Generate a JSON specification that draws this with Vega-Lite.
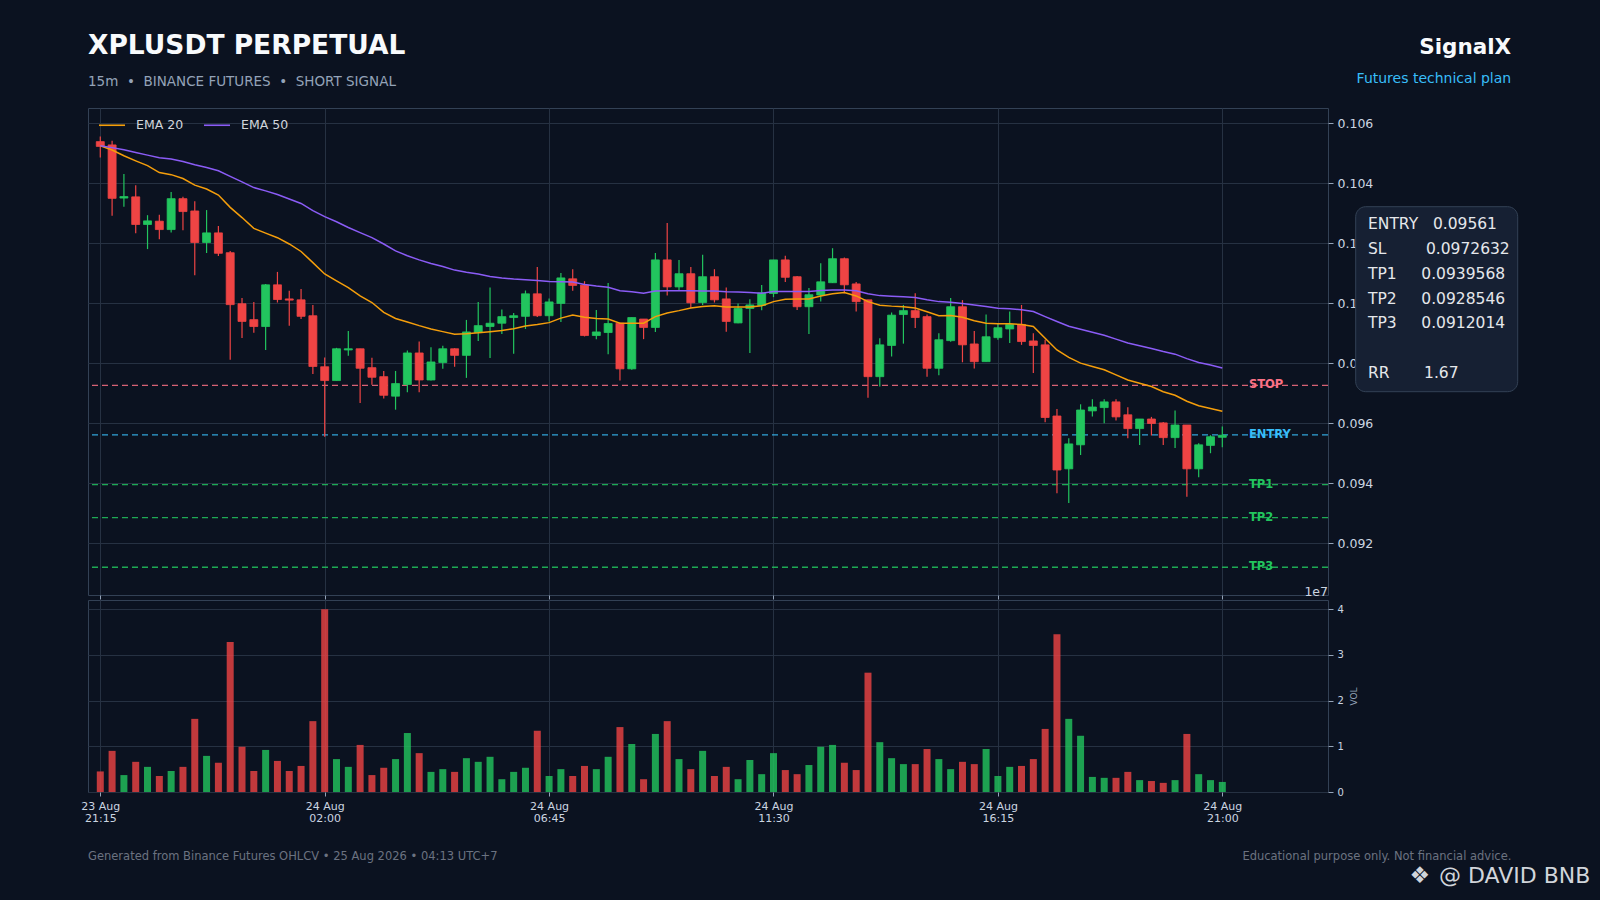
{
  "$schema": "https://vega.github.io/schema/vega-lite/v6.json",
  "description": "XPLUSDT perpetual 15m candles with EMA 20/50, trade levels and volume",
  "autosize": {"type": "none"},
  "padding": {"left": 88, "top": 108, "right": 1512, "bottom": 792},
  "background": "#0b1220",
  "bounds": "flush",
  "spacing": 5,
  "config": {
    "font": "DejaVu Sans",
    "view": {"fill": "#111827", "stroke": "#334155", "strokeWidth": 1},
    "axis": {
      "labelFont": "DejaVu Sans",
      "titleFont": "DejaVu Sans",
      "gridColor": "#263142",
      "gridWidth": 1,
      "domain": false,
      "tickColor": "#94a3b8",
      "labelColor": "#cbd5e1"
    }
  },
  "datasets": {
    "candles": [
      {"t":"2026-08-23T21:15:00Z","open":0.10538,"high":0.10555,"low":0.10485,"close":0.10522,"volume":0.45,"ema20":0.10524,"ema50":0.10524},
      {"t":"2026-08-23T21:30:00Z","open":0.10527,"high":0.10541,"low":0.10291,"close":0.10349,"volume":0.90,"ema20":0.10510,"ema50":0.10518},
      {"t":"2026-08-23T21:45:00Z","open":0.10350,"high":0.10430,"low":0.10321,"close":0.10355,"volume":0.37,"ema20":0.10491,"ema50":0.10511},
      {"t":"2026-08-23T22:00:00Z","open":0.10354,"high":0.10393,"low":0.10233,"close":0.10262,"volume":0.66,"ema20":0.10474,"ema50":0.10502},
      {"t":"2026-08-23T22:15:00Z","open":0.10262,"high":0.10293,"low":0.10180,"close":0.10274,"volume":0.55,"ema20":0.10458,"ema50":0.10493},
      {"t":"2026-08-23T22:30:00Z","open":0.10273,"high":0.10294,"low":0.10213,"close":0.10245,"volume":0.35,"ema20":0.10435,"ema50":0.10484},
      {"t":"2026-08-23T22:45:00Z","open":0.10245,"high":0.10370,"low":0.10235,"close":0.10348,"volume":0.46,"ema20":0.10428,"ema50":0.10480},
      {"t":"2026-08-23T23:00:00Z","open":0.10348,"high":0.10354,"low":0.10243,"close":0.10305,"volume":0.55,"ema20":0.10415,"ema50":0.10472},
      {"t":"2026-08-23T23:15:00Z","open":0.10307,"high":0.10339,"low":0.10093,"close":0.10202,"volume":1.60,"ema20":0.10393,"ema50":0.10461},
      {"t":"2026-08-23T23:30:00Z","open":0.10202,"high":0.10310,"low":0.10167,"close":0.10234,"volume":0.79,"ema20":0.10380,"ema50":0.10452},
      {"t":"2026-08-23T23:45:00Z","open":0.10234,"high":0.10257,"low":0.10157,"close":0.10166,"volume":0.64,"ema20":0.10360,"ema50":0.10441},
      {"t":"2026-08-24T00:00:00Z","open":0.10168,"high":0.10174,"low":0.09811,"close":0.09995,"volume":3.28,"ema20":0.10319,"ema50":0.10422},
      {"t":"2026-08-24T00:15:00Z","open":0.09998,"high":0.10017,"low":0.09884,"close":0.09939,"volume":0.99,"ema20":0.10285,"ema50":0.10404},
      {"t":"2026-08-24T00:30:00Z","open":0.09945,"high":0.10004,"low":0.09901,"close":0.09922,"volume":0.46,"ema20":0.10249,"ema50":0.10385},
      {"t":"2026-08-24T00:45:00Z","open":0.09922,"high":0.10064,"low":0.09844,"close":0.10061,"volume":0.92,"ema20":0.10233,"ema50":0.10374},
      {"t":"2026-08-24T01:00:00Z","open":0.10061,"high":0.10104,"low":0.10002,"close":0.10012,"volume":0.68,"ema20":0.10218,"ema50":0.10362},
      {"t":"2026-08-24T01:15:00Z","open":0.10014,"high":0.10041,"low":0.09925,"close":0.10010,"volume":0.46,"ema20":0.10197,"ema50":0.10347},
      {"t":"2026-08-24T01:30:00Z","open":0.10011,"high":0.10047,"low":0.09947,"close":0.09956,"volume":0.57,"ema20":0.10172,"ema50":0.10332},
      {"t":"2026-08-24T01:45:00Z","open":0.09958,"high":0.09994,"low":0.09764,"close":0.09789,"volume":1.55,"ema20":0.10135,"ema50":0.10308},
      {"t":"2026-08-24T02:00:00Z","open":0.09788,"high":0.09819,"low":0.09555,"close":0.09742,"volume":4.00,"ema20":0.10097,"ema50":0.10288},
      {"t":"2026-08-24T02:15:00Z","open":0.09742,"high":0.09851,"low":0.09742,"close":0.09848,"volume":0.72,"ema20":0.10074,"ema50":0.10271},
      {"t":"2026-08-24T02:30:00Z","open":0.09844,"high":0.09907,"low":0.09825,"close":0.09848,"volume":0.55,"ema20":0.10052,"ema50":0.10252},
      {"t":"2026-08-24T02:45:00Z","open":0.09848,"high":0.09848,"low":0.09667,"close":0.09783,"volume":1.03,"ema20":0.10024,"ema50":0.10235},
      {"t":"2026-08-24T03:00:00Z","open":0.09785,"high":0.09818,"low":0.09728,"close":0.09753,"volume":0.37,"ema20":0.10002,"ema50":0.10218},
      {"t":"2026-08-24T03:15:00Z","open":0.09755,"high":0.09774,"low":0.09682,"close":0.09693,"volume":0.53,"ema20":0.09969,"ema50":0.10197},
      {"t":"2026-08-24T03:30:00Z","open":0.09690,"high":0.09774,"low":0.09645,"close":0.09732,"volume":0.72,"ema20":0.09949,"ema50":0.10174},
      {"t":"2026-08-24T03:45:00Z","open":0.09729,"high":0.09842,"low":0.09703,"close":0.09834,"volume":1.29,"ema20":0.09937,"ema50":0.10158},
      {"t":"2026-08-24T04:00:00Z","open":0.09834,"high":0.09872,"low":0.09703,"close":0.09744,"volume":0.85,"ema20":0.09925,"ema50":0.10144},
      {"t":"2026-08-24T04:15:00Z","open":0.09744,"high":0.09853,"low":0.09742,"close":0.09804,"volume":0.44,"ema20":0.09914,"ema50":0.10132},
      {"t":"2026-08-24T04:30:00Z","open":0.09802,"high":0.09858,"low":0.09781,"close":0.09848,"volume":0.50,"ema20":0.09905,"ema50":0.10122},
      {"t":"2026-08-24T04:45:00Z","open":0.09848,"high":0.09850,"low":0.09788,"close":0.09826,"volume":0.44,"ema20":0.09896,"ema50":0.10110},
      {"t":"2026-08-24T05:00:00Z","open":0.09826,"high":0.09944,"low":0.09751,"close":0.09904,"volume":0.74,"ema20":0.09898,"ema50":0.10103},
      {"t":"2026-08-24T05:15:00Z","open":0.09902,"high":0.10004,"low":0.09874,"close":0.09925,"volume":0.66,"ema20":0.09901,"ema50":0.10097},
      {"t":"2026-08-24T05:30:00Z","open":0.09922,"high":0.10052,"low":0.09817,"close":0.09933,"volume":0.77,"ema20":0.09905,"ema50":0.10089},
      {"t":"2026-08-24T05:45:00Z","open":0.09933,"high":0.09979,"low":0.09897,"close":0.09955,"volume":0.28,"ema20":0.09909,"ema50":0.10084},
      {"t":"2026-08-24T06:00:00Z","open":0.09952,"high":0.09967,"low":0.09831,"close":0.09958,"volume":0.44,"ema20":0.09915,"ema50":0.10080},
      {"t":"2026-08-24T06:15:00Z","open":0.09956,"high":0.10042,"low":0.09914,"close":0.10031,"volume":0.53,"ema20":0.09924,"ema50":0.10078},
      {"t":"2026-08-24T06:30:00Z","open":0.10031,"high":0.10120,"low":0.09954,"close":0.09958,"volume":1.34,"ema20":0.09929,"ema50":0.10075},
      {"t":"2026-08-24T06:45:00Z","open":0.09958,"high":0.10015,"low":0.09939,"close":0.10004,"volume":0.35,"ema20":0.09935,"ema50":0.10072},
      {"t":"2026-08-24T07:00:00Z","open":0.09999,"high":0.10100,"low":0.09937,"close":0.10084,"volume":0.50,"ema20":0.09950,"ema50":0.10071},
      {"t":"2026-08-24T07:15:00Z","open":0.10081,"high":0.10113,"low":0.10041,"close":0.10059,"volume":0.35,"ema20":0.09960,"ema50":0.10070},
      {"t":"2026-08-24T07:30:00Z","open":0.10060,"high":0.10073,"low":0.09889,"close":0.09892,"volume":0.57,"ema20":0.09953,"ema50":0.10062},
      {"t":"2026-08-24T07:45:00Z","open":0.09892,"high":0.09977,"low":0.09880,"close":0.09904,"volume":0.50,"ema20":0.09949,"ema50":0.10057},
      {"t":"2026-08-24T08:00:00Z","open":0.09902,"high":0.10067,"low":0.09830,"close":0.09932,"volume":0.77,"ema20":0.09947,"ema50":0.10053},
      {"t":"2026-08-24T08:15:00Z","open":0.09933,"high":0.09935,"low":0.09742,"close":0.09781,"volume":1.42,"ema20":0.09933,"ema50":0.10041},
      {"t":"2026-08-24T08:30:00Z","open":0.09781,"high":0.09952,"low":0.09778,"close":0.09952,"volume":1.05,"ema20":0.09933,"ema50":0.10038},
      {"t":"2026-08-24T08:45:00Z","open":0.09947,"high":0.09947,"low":0.09880,"close":0.09919,"volume":0.28,"ema20":0.09933,"ema50":0.10033},
      {"t":"2026-08-24T09:00:00Z","open":0.09919,"high":0.10167,"low":0.09904,"close":0.10144,"volume":1.27,"ema20":0.09955,"ema50":0.10040},
      {"t":"2026-08-24T09:15:00Z","open":0.10144,"high":0.10267,"low":0.10025,"close":0.10054,"volume":1.55,"ema20":0.09967,"ema50":0.10041},
      {"t":"2026-08-24T09:30:00Z","open":0.10054,"high":0.10144,"low":0.10041,"close":0.10098,"volume":0.72,"ema20":0.09975,"ema50":0.10041},
      {"t":"2026-08-24T09:45:00Z","open":0.10098,"high":0.10120,"low":0.09984,"close":0.10001,"volume":0.50,"ema20":0.09984,"ema50":0.10041},
      {"t":"2026-08-24T10:00:00Z","open":0.10002,"high":0.10161,"low":0.09994,"close":0.10088,"volume":0.90,"ema20":0.09989,"ema50":0.10040},
      {"t":"2026-08-24T10:15:00Z","open":0.10088,"high":0.10113,"low":0.10002,"close":0.10011,"volume":0.35,"ema20":0.09991,"ema50":0.10040},
      {"t":"2026-08-24T10:30:00Z","open":0.10014,"high":0.10052,"low":0.09905,"close":0.09939,"volume":0.55,"ema20":0.09987,"ema50":0.10038},
      {"t":"2026-08-24T10:45:00Z","open":0.09934,"high":0.09999,"low":0.09933,"close":0.09982,"volume":0.28,"ema20":0.09987,"ema50":0.10037},
      {"t":"2026-08-24T11:00:00Z","open":0.09982,"high":0.10013,"low":0.09834,"close":0.09994,"volume":0.70,"ema20":0.09987,"ema50":0.10035},
      {"t":"2026-08-24T11:15:00Z","open":0.09992,"high":0.10060,"low":0.09976,"close":0.10034,"volume":0.39,"ema20":0.09991,"ema50":0.10033},
      {"t":"2026-08-24T11:30:00Z","open":0.10032,"high":0.10144,"low":0.10020,"close":0.10144,"volume":0.85,"ema20":0.10005,"ema50":0.10039},
      {"t":"2026-08-24T11:45:00Z","open":0.10144,"high":0.10158,"low":0.10070,"close":0.10086,"volume":0.48,"ema20":0.10013,"ema50":0.10039},
      {"t":"2026-08-24T12:00:00Z","open":0.10088,"high":0.10090,"low":0.09977,"close":0.09988,"volume":0.39,"ema20":0.10014,"ema50":0.10039},
      {"t":"2026-08-24T12:15:00Z","open":0.09988,"high":0.10050,"low":0.09897,"close":0.10028,"volume":0.59,"ema20":0.10014,"ema50":0.10039},
      {"t":"2026-08-24T12:30:00Z","open":0.10027,"high":0.10133,"low":0.10005,"close":0.10071,"volume":0.99,"ema20":0.10024,"ema50":0.10042},
      {"t":"2026-08-24T12:45:00Z","open":0.10068,"high":0.10183,"low":0.10067,"close":0.10148,"volume":1.03,"ema20":0.10031,"ema50":0.10044},
      {"t":"2026-08-24T13:00:00Z","open":0.10148,"high":0.10152,"low":0.10033,"close":0.10061,"volume":0.64,"ema20":0.10035,"ema50":0.10044},
      {"t":"2026-08-24T13:15:00Z","open":0.10064,"high":0.10070,"low":0.09972,"close":0.10005,"volume":0.48,"ema20":0.10024,"ema50":0.10041},
      {"t":"2026-08-24T13:30:00Z","open":0.10011,"high":0.10011,"low":0.09685,"close":0.09755,"volume":2.61,"ema20":0.10005,"ema50":0.10031},
      {"t":"2026-08-24T13:45:00Z","open":0.09755,"high":0.09883,"low":0.09722,"close":0.09861,"volume":1.09,"ema20":0.09993,"ema50":0.10025},
      {"t":"2026-08-24T14:00:00Z","open":0.09859,"high":0.09969,"low":0.09822,"close":0.09960,"volume":0.74,"ema20":0.09990,"ema50":0.10023},
      {"t":"2026-08-24T14:15:00Z","open":0.09962,"high":0.09994,"low":0.09865,"close":0.09975,"volume":0.61,"ema20":0.09988,"ema50":0.10021},
      {"t":"2026-08-24T14:30:00Z","open":0.09975,"high":0.10033,"low":0.09917,"close":0.09952,"volume":0.61,"ema20":0.09984,"ema50":0.10019},
      {"t":"2026-08-24T14:45:00Z","open":0.09955,"high":0.09962,"low":0.09755,"close":0.09783,"volume":0.94,"ema20":0.09971,"ema50":0.10011},
      {"t":"2026-08-24T15:00:00Z","open":0.09783,"high":0.09900,"low":0.09760,"close":0.09878,"volume":0.72,"ema20":0.09958,"ema50":0.10005},
      {"t":"2026-08-24T15:15:00Z","open":0.09875,"high":0.10017,"low":0.09871,"close":0.09988,"volume":0.50,"ema20":0.09959,"ema50":0.10003},
      {"t":"2026-08-24T15:30:00Z","open":0.09988,"high":0.10010,"low":0.09803,"close":0.09861,"volume":0.66,"ema20":0.09953,"ema50":0.09999},
      {"t":"2026-08-24T15:45:00Z","open":0.09864,"high":0.09907,"low":0.09782,"close":0.09805,"volume":0.61,"ema20":0.09941,"ema50":0.09994},
      {"t":"2026-08-24T16:00:00Z","open":0.09805,"high":0.09962,"low":0.09805,"close":0.09888,"volume":0.94,"ema20":0.09933,"ema50":0.09989},
      {"t":"2026-08-24T16:15:00Z","open":0.09885,"high":0.09933,"low":0.09878,"close":0.09918,"volume":0.35,"ema20":0.09931,"ema50":0.09983},
      {"t":"2026-08-24T16:30:00Z","open":0.09914,"high":0.09972,"low":0.09867,"close":0.09929,"volume":0.55,"ema20":0.09931,"ema50":0.09981},
      {"t":"2026-08-24T16:45:00Z","open":0.09929,"high":0.09994,"low":0.09861,"close":0.09872,"volume":0.57,"ema20":0.09929,"ema50":0.09978},
      {"t":"2026-08-24T17:00:00Z","open":0.09874,"high":0.09900,"low":0.09767,"close":0.09859,"volume":0.72,"ema20":0.09922,"ema50":0.09972},
      {"t":"2026-08-24T17:15:00Z","open":0.09861,"high":0.09878,"low":0.09603,"close":0.09619,"volume":1.38,"ema20":0.09883,"ema50":0.09955},
      {"t":"2026-08-24T17:30:00Z","open":0.09624,"high":0.09647,"low":0.09367,"close":0.09444,"volume":3.45,"ema20":0.09844,"ema50":0.09939},
      {"t":"2026-08-24T17:45:00Z","open":0.09448,"high":0.09550,"low":0.09334,"close":0.09531,"volume":1.60,"ema20":0.09819,"ema50":0.09923},
      {"t":"2026-08-24T18:00:00Z","open":0.09528,"high":0.09663,"low":0.09494,"close":0.09644,"volume":1.23,"ema20":0.09800,"ema50":0.09913},
      {"t":"2026-08-24T18:15:00Z","open":0.09641,"high":0.09680,"low":0.09622,"close":0.09654,"volume":0.33,"ema20":0.09789,"ema50":0.09903},
      {"t":"2026-08-24T18:30:00Z","open":0.09652,"high":0.09680,"low":0.09600,"close":0.09671,"volume":0.31,"ema20":0.09778,"ema50":0.09893},
      {"t":"2026-08-24T18:45:00Z","open":0.09671,"high":0.09680,"low":0.09609,"close":0.09621,"volume":0.31,"ema20":0.09761,"ema50":0.09880},
      {"t":"2026-08-24T19:00:00Z","open":0.09628,"high":0.09653,"low":0.09550,"close":0.09582,"volume":0.44,"ema20":0.09744,"ema50":0.09867},
      {"t":"2026-08-24T19:15:00Z","open":0.09582,"high":0.09614,"low":0.09527,"close":0.09614,"volume":0.26,"ema20":0.09733,"ema50":0.09858},
      {"t":"2026-08-24T19:30:00Z","open":0.09614,"high":0.09621,"low":0.09559,"close":0.09599,"volume":0.24,"ema20":0.09722,"ema50":0.09849},
      {"t":"2026-08-24T19:45:00Z","open":0.09601,"high":0.09604,"low":0.09527,"close":0.09552,"volume":0.20,"ema20":0.09705,"ema50":0.09839},
      {"t":"2026-08-24T20:00:00Z","open":0.09552,"high":0.09642,"low":0.09517,"close":0.09594,"volume":0.26,"ema20":0.09693,"ema50":0.09830},
      {"t":"2026-08-24T20:15:00Z","open":0.09594,"high":0.09594,"low":0.09355,"close":0.09448,"volume":1.27,"ema20":0.09673,"ema50":0.09815},
      {"t":"2026-08-24T20:30:00Z","open":0.09448,"high":0.09533,"low":0.09420,"close":0.09528,"volume":0.39,"ema20":0.09658,"ema50":0.09802},
      {"t":"2026-08-24T20:45:00Z","open":0.09526,"high":0.09560,"low":0.09500,"close":0.09555,"volume":0.26,"ema20":0.09649,"ema50":0.09794},
      {"t":"2026-08-24T21:00:00Z","open":0.09553,"high":0.09589,"low":0.09520,"close":0.09560,"volume":0.22,"ema20":0.09640,"ema50":0.09784}
    ],
    "levels": [
      {"name": "STOP", "price": 0.0972632},
      {"name": "ENTRY", "price": 0.09561},
      {"name": "TP1", "price": 0.0939568},
      {"name": "TP2", "price": 0.0928546},
      {"name": "TP3", "price": 0.0912014}
    ]
  },
  "vconcat": [
    {
      "width": 1240,
      "height": 487,
      "title": {
        "text": "XPLUSDT PERPETUAL",
        "subtitle": "15m\u00a0 •\u00a0 BINANCE FUTURES\u00a0 •\u00a0 SHORT SIGNAL",
        "anchor": "start",
        "frame": "group",
        "orient": "top",
        "offset": 20,
        "font": "DejaVu Sans",
        "fontSize": 26.5,
        "fontWeight": "bold",
        "color": "#f8fafc",
        "subtitleFont": "DejaVu Sans",
        "subtitleFontSize": 13.5,
        "subtitleColor": "#94a3b8",
        "subtitlePadding": 15
      },
      "layer": [
        {
          "data": {"name": "levels"},
          "mark": {"type": "rule", "strokeWidth": 1.3, "strokeDash": [6, 4], "opacity": 0.85},
          "encoding": {
            "y": {"field": "price", "type": "quantitative", "scale": {"domain": [0.090277, 0.1065], "zero": false, "nice": false}},
            "stroke": {
              "field": "name", "type": "nominal", "legend": null,
              "scale": {"domain": ["STOP", "ENTRY", "TP1", "TP2", "TP3"], "range": ["#fb7185", "#38bdf8", "#22c55e", "#22c55e", "#22c55e"]}
            }
          }
        },
        {
          "data": {"name": "candles"},
          "mark": {"type": "rule", "strokeWidth": 1.2},
          "encoding": {
            "x": {
              "field": "t", "type": "temporal",
              "scale": {"type": "utc", "padding": 0, "nice": false, "domain": [
                {"year": 2026, "month": 8, "date": 23, "hours": 20, "minutes": 59, "seconds": 24, "utc": true},
                {"year": 2026, "month": 8, "date": 24, "hours": 23, "minutes": 14, "seconds": 14, "utc": true}
              ]},
              "axis": {
                "title": null, "labels": false, "ticks": true, "tickSize": 4, "grid": true,
                "values": [
                  {"year": 2026, "month": 8, "date": 23, "hours": 21, "minutes": 15, "utc": true},
                  {"year": 2026, "month": 8, "date": 24, "hours": 2, "minutes": 0, "utc": true},
                  {"year": 2026, "month": 8, "date": 24, "hours": 6, "minutes": 45, "utc": true},
                  {"year": 2026, "month": 8, "date": 24, "hours": 11, "minutes": 30, "utc": true},
                  {"year": 2026, "month": 8, "date": 24, "hours": 16, "minutes": 15, "utc": true},
                  {"year": 2026, "month": 8, "date": 24, "hours": 21, "minutes": 0, "utc": true}
                ]
              }
            },
            "y": {
              "field": "low", "type": "quantitative",
              "axis": {
                "orient": "right", "title": null, "format": ".3f", "grid": true,
                "values": [0.092, 0.094, 0.096, 0.098, 0.1, 0.102, 0.104, 0.106],
                "tickSize": 5, "labelPadding": 4, "labelFontSize": 12.5
              }
            },
            "y2": {"field": "high"},
            "color": {"condition": {"test": "datum.close >= datum.open", "value": "#22c55e"}, "value": "#ef4444"}
          }
        },
        {
          "data": {"name": "candles"},
          "mark": {"type": "bar", "width": 8, "strokeWidth": 0.8},
          "encoding": {
            "x": {"field": "t", "type": "temporal"},
            "y": {"field": "open", "type": "quantitative"},
            "y2": {"field": "close"},
            "color": {"condition": {"test": "datum.close >= datum.open", "value": "#22c55e"}, "value": "#ef4444"},
            "stroke": {"condition": {"test": "datum.close >= datum.open", "value": "#22c55e"}, "value": "#ef4444"}
          }
        },
        {
          "data": {"name": "candles"},
          "transform": [{"fold": ["ema20", "ema50"], "as": ["series", "ema"]}],
          "mark": {"type": "line", "strokeWidth": 1.5},
          "encoding": {
            "x": {"field": "t", "type": "temporal"},
            "y": {"field": "ema", "type": "quantitative"},
            "color": {
              "field": "series", "type": "nominal",
              "scale": {"domain": ["ema20", "ema50"], "range": ["#f59e0b", "#8b5cf6"]},
              "legend": {
                "orient": "none", "legendX": 10, "legendY": 3, "direction": "horizontal",
                "title": null, "padding": 0,
                "labelExpr": "datum.label == 'ema20' ? 'EMA 20' : 'EMA 50'",
                "labelColor": "#d1d5db", "labelFont": "DejaVu Sans", "labelFontSize": 12.5,
                "symbolType": "stroke", "symbolSize": 676, "symbolStrokeWidth": 1.6,
                "labelOffset": 10, "columnPadding": 16
              }
            }
          }
        },
        {
          "data": {"name": "levels"},
          "mark": {"type": "text", "align": "left", "baseline": "middle", "dx": 3, "fontSize": 11.5, "fontWeight": "bold", "font": "DejaVu Sans"},
          "encoding": {
            "x": {"datum": {"year": 2026, "month": 8, "date": 24, "hours": 21, "minutes": 30, "utc": true}, "type": "temporal"},
            "y": {"field": "price", "type": "quantitative"},
            "text": {"field": "name"},
            "fill": {
              "field": "name", "type": "nominal", "legend": null,
              "scale": {"domain": ["STOP", "ENTRY", "TP1", "TP2", "TP3"], "range": ["#fb7185", "#38bdf8", "#22c55e", "#22c55e", "#22c55e"]}
            }
          }
        },
        {
          "data": {"values": [{"panel": "plan"}]},
          "mark": {"type": "rect", "x": 1267.7, "x2": 1429.7, "y": 98.7, "y2": 283.7, "cornerRadius": 10, "fill": "#162033", "stroke": "#334155", "strokeWidth": 1},
          "encoding": {}
        },
        {
          "data": {"values": [{"panel": "plan"}]},
          "mark": {
            "type": "text", "x": 1280, "y": 121.3, "align": "left", "baseline": "alphabetic",
            "font": "DejaVu Sans", "fontSize": 15.5, "lineHeight": 24.8, "color": "#e5e7eb",
            "text": [
              "ENTRY\u00a0\u00a0\u00a00.09561",
              "SL\u00a0\u00a0\u00a0\u00a0\u00a0\u00a0\u00a0\u00a00.0972632",
              "TP1\u00a0\u00a0\u00a0\u00a0\u00a00.0939568",
              "TP2\u00a0\u00a0\u00a0\u00a0\u00a00.0928546",
              "TP3\u00a0\u00a0\u00a0\u00a0\u00a00.0912014"
            ]
          },
          "encoding": {}
        },
        {
          "data": {"values": [{"rr": "RR\u00a0\u00a0\u00a0\u00a0\u00a0\u00a0\u00a01.67"}]},
          "mark": {"type": "text", "x": 1280, "y": 270.1, "align": "left", "baseline": "alphabetic", "font": "DejaVu Sans", "fontSize": 15.5, "color": "#e5e7eb"},
          "encoding": {"text": {"field": "rr"}}
        }
      ]
    },
    {
      "width": 1240,
      "height": 192,
      "layer": [
        {
          "data": {"name": "candles"},
          "mark": {"type": "bar", "width": 7, "opacity": 0.8},
          "encoding": {
            "x": {
              "field": "t", "type": "temporal",
              "scale": {"type": "utc", "padding": 0, "nice": false, "domain": [
                {"year": 2026, "month": 8, "date": 23, "hours": 20, "minutes": 59, "seconds": 24, "utc": true},
                {"year": 2026, "month": 8, "date": 24, "hours": 23, "minutes": 14, "seconds": 14, "utc": true}
              ]},
              "axis": {
                "title": null, "grid": true, "tickSize": 4, "labelPadding": 4,
                "labelFontSize": 11, "labelLineHeight": 12, "labelFlush": false, "labelOverlap": false, "labelBound": false,
                "labelExpr": "[utcFormat(datum.value, '%d %b'), utcFormat(datum.value, '%H:%M')]",
                "values": [
                  {"year": 2026, "month": 8, "date": 23, "hours": 21, "minutes": 15, "utc": true},
                  {"year": 2026, "month": 8, "date": 24, "hours": 2, "minutes": 0, "utc": true},
                  {"year": 2026, "month": 8, "date": 24, "hours": 6, "minutes": 45, "utc": true},
                  {"year": 2026, "month": 8, "date": 24, "hours": 11, "minutes": 30, "utc": true},
                  {"year": 2026, "month": 8, "date": 24, "hours": 16, "minutes": 15, "utc": true},
                  {"year": 2026, "month": 8, "date": 24, "hours": 21, "minutes": 0, "utc": true}
                ]
              }
            },
            "y": {
              "field": "volume", "type": "quantitative",
              "scale": {"domain": [0, 4.2], "nice": false},
              "axis": {
                "orient": "right", "title": "VOL", "titleAngle": 270, "titleFontSize": 9, "titleFontWeight": "normal",
                "titleColor": "#94a3b8", "titlePadding": 15, "values": [0, 1, 2, 3, 4], "format": "d",
                "grid": true, "tickSize": 5, "labelPadding": 4, "labelFontSize": 10
              }
            },
            "color": {"condition": {"test": "datum.close >= datum.open", "value": "#22c55e"}, "value": "#ef4444"}
          }
        },
        {
          "data": {"values": [{"offset": "1e7"}]},
          "mark": {"type": "text", "x": 1240, "y": -4, "align": "right", "baseline": "alphabetic", "font": "DejaVu Sans", "fontSize": 12.5, "color": "#cbd5e1"},
          "encoding": {"text": {"field": "offset"}}
        },
        {
          "data": {"values": [{"brand": "SignalX"}]},
          "mark": {"type": "text", "x": 1423.2, "y": -546, "align": "right", "baseline": "alphabetic", "font": "DejaVu Sans", "fontSize": 21.5, "fontWeight": "bold", "color": "#f8fafc"},
          "encoding": {"text": {"field": "brand"}}
        },
        {
          "data": {"values": [{"tagline": "Futures technical plan"}]},
          "mark": {"type": "text", "x": 1423.2, "y": -517, "align": "right", "baseline": "alphabetic", "font": "DejaVu Sans", "fontSize": 14, "color": "#38bdf8"},
          "encoding": {"text": {"field": "tagline"}}
        },
        {
          "data": {"values": [{"note": "Generated from Binance Futures OHLCV • 25 Aug 2026 • 04:13 UTC+7"}]},
          "mark": {"type": "text", "x": 0, "y": 259.7, "align": "left", "baseline": "alphabetic", "font": "DejaVu Sans", "fontSize": 11.5, "color": "#6b7280"},
          "encoding": {"text": {"field": "note"}}
        },
        {
          "data": {"values": [{"note": "Educational purpose only. Not financial advice."}]},
          "mark": {"type": "text", "x": 1423.4, "y": 259.7, "align": "right", "baseline": "alphabetic", "font": "DejaVu Sans", "fontSize": 11.5, "color": "#6b7280"},
          "encoding": {"text": {"field": "note"}}
        },
        {
          "data": {"values": [{"mark": "❖"}]},
          "mark": {"type": "text", "x": 1331.7, "y": 275.5, "align": "center", "baseline": "middle", "font": "DejaVu Sans", "fontSize": 23, "color": "#d1d5db"},
          "encoding": {"text": {"field": "mark"}}
        },
        {
          "data": {"values": [{"handle": "@ DAVID BNB"}]},
          "mark": {"type": "text", "x": 1351, "y": 282.5, "align": "left", "baseline": "alphabetic", "font": "DejaVu Sans", "fontSize": 22, "color": "#d1d5db"},
          "encoding": {"text": {"field": "handle"}}
        }
      ]
    }
  ],
  "resolve": {"scale": {"x": "independent", "y": "independent"}}
}
